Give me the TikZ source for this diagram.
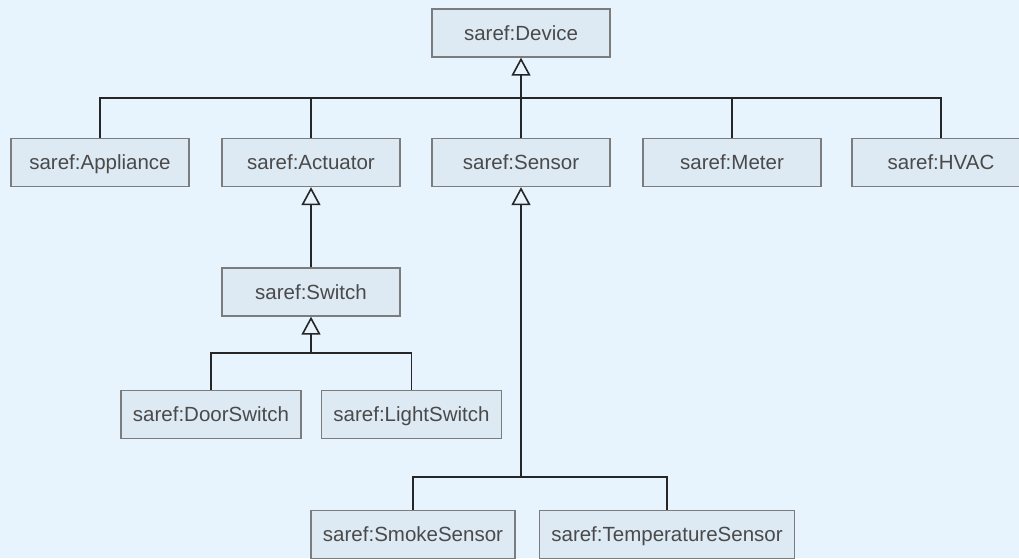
\documentclass[tikz,border=0pt]{standalone}
\usepackage{fontspec}
\setmainfont{Liberation Sans}
\usepackage{xcolor}
\usepackage{tikz}
\usetikzlibrary{arrows.meta}

\definecolor{bgblue}{HTML}{E8F4FD}
\definecolor{boxfill}{HTML}{DDE9F3}
\definecolor{boxline}{HTML}{7C7C7C}
\definecolor{boxtext}{HTML}{4A4A4A}
\definecolor{linecol}{HTML}{262626}

\tikzset{
	cls/.style = {draw = boxline, fill = boxfill, line width = 1.3pt, text = boxtext,
		minimum width = 178pt, minimum height = 48pt, inner xsep = 12pt,
		text height = 16pt, text depth = 1.3pt,
		font = \fontsize{20.5}{24}\selectfont},
	conn/.style = {draw = linecol, line width = 1.8pt},
	isa/.style = {-{Triangle[open, length = 18pt, width = 19pt, line width = 1.6pt]}}
}

\begin{document}
\begin{tikzpicture}[x = 1pt, y = -1pt]
	% canvas
	\clip (0,0) rectangle (1019,558);
	\fill[bgblue] (0,0) rectangle (1019,558);
	
	% classes
	\node[cls] (device) at (521,33) {saref:Device};
	
	\node[cls] (appliance) at (100,162.5) {saref:Appliance};
	\node[cls] (actuator) at (311,162.5) {saref:Actuator};
	\node[cls] (sensor) at (521,162.5) {saref:Sensor};
	\node[cls] (meter) at (732,162.5) {saref:Meter};
	\node[cls] (hvac) at (941,162.5) {saref:HVAC};
	
	\node[cls] (switch) at (311,292) {saref:Switch};
	\node[cls] (doorswitch) at (211,414.5) {saref:DoorSwitch};
	\node[cls] (lightswitch) at (411.5,414.5) {saref:LightSwitch};
	
	\node[cls] (smokesensor) at (413,534.5) {saref:SmokeSensor};
	\node[cls] (tempsensor) at (667,534.5) {saref:TemperatureSensor};
	
	% bars
	\coordinate (devbar) at (521,98);
	\coordinate (swbar) at (311,353);
	\coordinate (senbar) at (521,477);
	
	% subclass of Device
	\draw[conn] (appliance.north) |- (devbar) -| (hvac.north);
	\draw[conn] (actuator.north) -- (actuator.north |- devbar);
	\draw[conn] (meter.north) -- (meter.north |- devbar);
	\draw[conn, isa] (sensor.north) -- (device.south);
	
	% subclass of Actuator / Switch
	\draw[conn, isa] (switch.north) -- (actuator.south);
	\draw[conn] (doorswitch.north) |- (swbar) -| (lightswitch.north);
	\draw[conn, isa] (swbar) -- (switch.south);
	
	% subclass of Sensor
	\draw[conn] (smokesensor.north) |- (senbar) -| (tempsensor.north);
	\draw[conn, isa] (senbar) -- (sensor.south);
	
\end{tikzpicture}
\end{document}
